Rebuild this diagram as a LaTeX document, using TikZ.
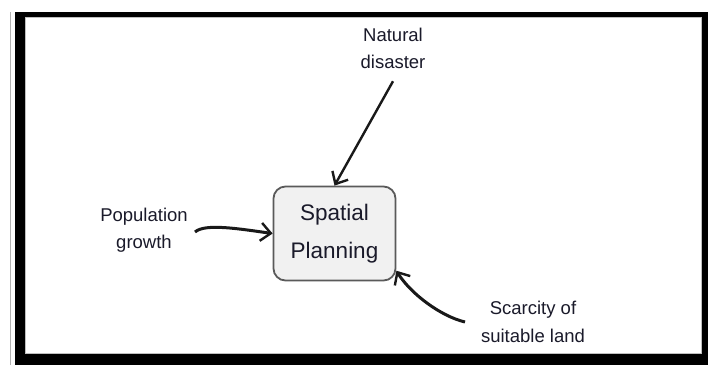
\documentclass[tikz,border=0pt]{standalone}
\usepackage{fontspec}
\setmainfont{Liberation Sans}
\usetikzlibrary{arrows.meta,calc}
\definecolor{txt}{HTML}{1A1A2A}
\definecolor{boxfill}{HTML}{F1F1F1}
\definecolor{boxline}{HTML}{5A5A5A}
\tikzset{
  lbl/.style={align=center, text=txt, inner sep=0pt, font=\fontsize{18.5}{27.5}\selectfont},
  mainbox/.style={draw=boxline, fill=boxfill, line width=1.8pt, rounded corners=12pt,
    minimum width=122pt, minimum height=94pt, align=center, text=txt, inner sep=0pt,
    font=\fontsize{22.5}{38}\selectfont},
  arr/.style={draw=black!90, line width=2.4pt, -{Straight Barb[length=10pt,width=18pt,line width=2.4pt]}}
}
\begin{document}
\begin{tikzpicture}[x=1pt,y=-1pt]
\useasboundingbox (0,0) rectangle (708,365);
% frame
\fill[white] (0,0) rectangle (708,365);
\draw[gray!60, line width=1pt] (10.5,12) -- (10.5,365);
\fill[black] (15,12) rectangle (708,365);
\fill[white] (25,17) rectangle (702,354);
\draw[gray!50, line width=0.8pt] (25.4,17.4) rectangle (701.6,353.6);
% nodes
\node[mainbox] (sp) at (334.5,233.5) {Spatial\\Planning};
\node[lbl] (nat) at (393,48.5) {Natural\\disaster};
\node[lbl] (pop) at (144,230) {Population\\growth};
\node[lbl] (scar) at (533,322) {Scarcity of\\suitable land};
% connector start points
\coordinate (ns) at ([yshift=-12pt]nat.south);
\coordinate (ps) at (195,232);
\coordinate (ss) at (465,322);
% connectors
\draw[arr] (ns) -- (sp.north);
\draw[arr, line width=3pt] (ps) .. controls (205,223) and (240,229) .. (sp.west);
\draw[arr, line width=3pt] (ss) .. controls (440,316) and (410,293) .. (sp.-31);
\end{tikzpicture}
\end{document}
